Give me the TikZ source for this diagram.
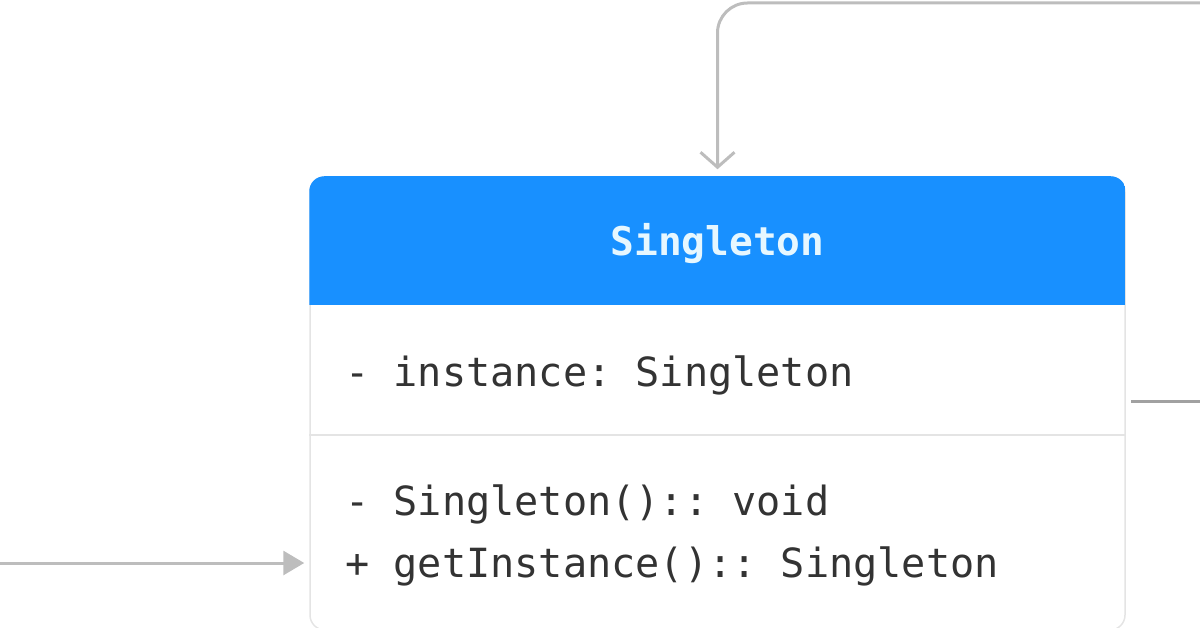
\documentclass[tikz,border=0pt]{standalone}
\usepackage{fontspec}
\setmonofont{DejaVu Sans Mono}
\usetikzlibrary{arrows.meta}
\definecolor{umlblue}{HTML}{1890FF}
\definecolor{umltitle}{HTML}{E6F7FF}
\definecolor{umltext}{HTML}{333333}
\definecolor{umlborder}{HTML}{E4E4E4}
\definecolor{umlline}{HTML}{BDBDBD}

\begin{document}
\begin{tikzpicture}[x=1pt, y=-1pt,
    classbox/.style = {draw=umlborder, line width=1.5pt, rounded corners=15pt, inner sep=0pt},
    member/.style = {anchor=base west, inner sep=0pt, text=umltext, font=\ttfamily\fontsize{40.2}{48}\selectfont},
    classname/.style = {anchor=base, inner sep=0pt, text=umltitle, font=\ttfamily\bfseries\fontsize{39.5}{47}\selectfont},
    link/.style = {draw=umlline, line width=3pt}]
    \useasboundingbox (0,0) rectangle (1200,628);
    \node[classbox, minimum width=815pt, minimum height=453pt] (cls) at (717.5,403.5) {};
    \begin{scope}
        \clip[rounded corners=15pt] (cls.north west) rectangle (cls.south east);
        \fill[umlblue] (cls.north west) rectangle (1125,305);
    \end{scope}
    \draw[umlborder, line width=1.5pt] (cls.west |- 0,435) -- (cls.east |- 0,435);
    \node[classname] (title) at (717.5,256) {Singleton};
    \node[member] (attr) at (345,387) {- instance: Singleton};
    \node[member] (ctor) at (345,515) {- Singleton():: void};
    \node[member] (getinst) at (345,577) {+ getInstance():: Singleton};
    % connectors leaving the picture
    \coordinate (client) at (1215,3);
    \coordinate (caller) at (-15,563);
    \coordinate (outgoing) at (1215,401);
    \draw[link, rounded corners=30pt, -{Straight Barb[length=15pt, width=34pt]}, shorten >=7pt] (client) -| (cls.north);
    \draw[link, -{Triangle[length=21pt, width=24pt]}, shorten >=5pt] (caller) -- (cls.west |- caller);
    \draw[link, draw=umlline!85!black, shorten <=5pt] (cls.east |- outgoing) -- (outgoing);
\end{tikzpicture}
\end{document}
